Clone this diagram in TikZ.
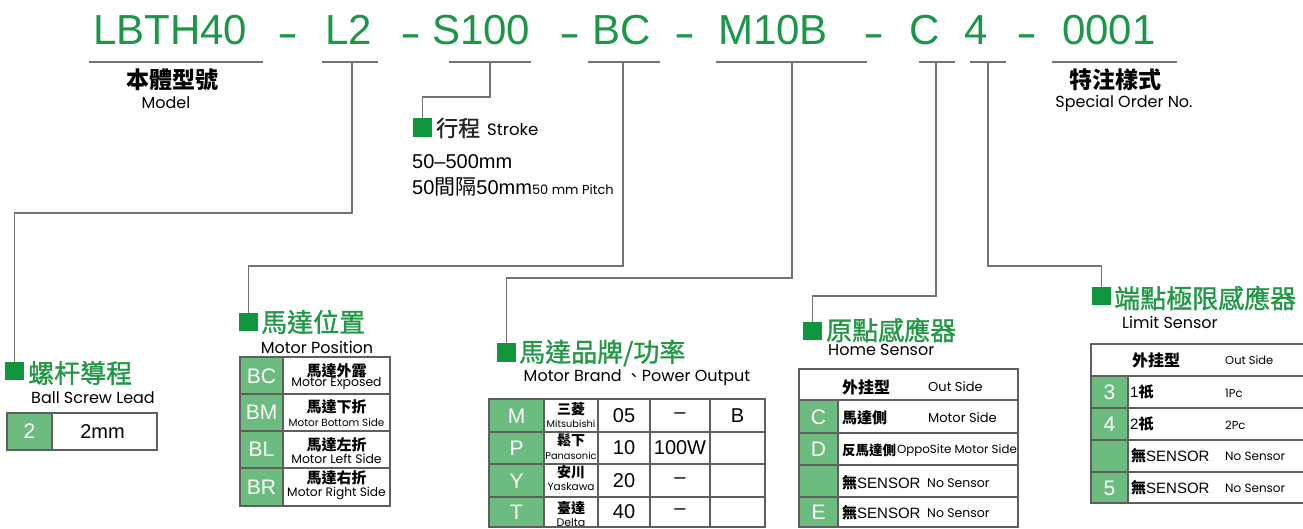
\documentclass[tikz,border=0pt]{standalone}
\usepackage{fontspec}
\setmainfont{Liberation Sans}
\newfontfamily\cjk{Noto Sans CJK TC}
\newfontfamily\cjkm[FakeBold=1.2]{Noto Sans CJK TC}
\newfontfamily\pop{Poppins}
\newcommand\setfs[1]{\fontsize{#1}{#1}\selectfont}
\newcommand\zh[1]{{\cjk #1}}
\newcommand\zhb[1]{{\cjk\bfseries #1}}
\definecolor{tg}{RGB}{28,150,72}
\definecolor{hg}{RGB}{34,152,70}
\definecolor{sqg}{RGB}{16,150,60}
\definecolor{cg}{RGB}{108,188,128}
\definecolor{ln}{RGB}{115,115,115}
\definecolor{tb}{RGB}{95,95,95}
\tikzset{
  ttl/.style={text=tg, font=\setfs{42}, inner sep=0, anchor=base west},
  hyph/.style={text=tg, font=\setfs{42}, inner sep=0, anchor=base},
  uline/.style={line width=2pt, draw=ln},
  conn/.style={line width=1.5pt, draw=ln},
  sqbox/.style={fill=sqg, minimum size=18.5pt, inner sep=0},
  head/.style={text=hg, font=\cjkm\setfs{26}, inner sep=0, anchor=west},
  subt/.style={font=\pop\setfs{16}, inner sep=0},
  tab/.style={draw=tb, line width=1.4pt},
  cellg/.style={fill=cg},
  wl/.style={text=white, font=\setfs{21}, inner sep=0},
  num/.style={font=\setfs{20}, inner sep=0},
  zhc/.style={font=\cjk\bfseries\setfs{15}, inner sep=0},
  enc/.style={font=\pop\setfs{12.4}, inner sep=0},
}
\begin{document}
\begin{tikzpicture}[x=1pt,y=-1pt]
\useasboundingbox (0,0) rectangle (1303,529);
% ---------- title ----------
\node[ttl] (tA) at (93,45) {LBTH40};
\node[hyph] (h1) at (288,48) {\scalebox{1.5}[1]{-}};
\node[ttl] (tB) at (325,45) {L2};
\node[hyph] (h2) at (411,48) {\scalebox{1.5}[1]{-}};
\node[ttl] (tC) at (432,45) {S100};
\node[hyph] (h3) at (570,48) {\scalebox{1.5}[1]{-}};
\node[ttl] (tD) at (592,45) {BC};
\node[hyph] (h4) at (685,48) {\scalebox{1.5}[1]{-}};
\node[ttl] (tE) at (718,45) {M10B};
\node[hyph] (h5) at (874,48) {\scalebox{1.5}[1]{-}};
\node[ttl] (tF) at (909,45) {C};
\node[ttl] (tG) at (964,45) {4};
\node[hyph] (h6) at (1027,48) {\scalebox{1.5}[1]{-}};
\node[ttl] (tH) at (1062,45) {0001};
% underlines
\draw[uline] (89,62) -- (263,62);
\draw[uline] (322,62) -- (378,62);
\draw[uline] (449,62) -- (531,62);
\draw[uline] (588,62) -- (660,62);
\draw[uline] (716,62) -- (867,62);
\draw[uline] (919,62) -- (955,62);
\draw[uline] (970,62) -- (1006,62);
\draw[uline] (1052,62) -- (1177,62);
\coordinate (cB) at (352,62);
\coordinate (cC) at (490,62);
\coordinate (cD) at (623,62);
\coordinate (cE) at (792,62);
\coordinate (cF) at (936,62);
\coordinate (cG) at (988,62);
% model & special
\node[font=\cjk\bfseries\setfs{23}, inner sep=0] (model) at (172,80) {本體型號};
\node[subt] (modelE) at (166,103) {Model};
\node[font=\cjk\bfseries\setfs{23}, inner sep=0] (spec) at (1115,80) {特注樣式};
\node[subt] (specE) at (1124,103) {Special Order No.};
% ---------- squares ----------
\node[sqbox] (sqS) at (422.5,127.5) {};
\node[sqbox] (sqL) at (14.5,371) {};
\node[sqbox] (sqP) at (248.5,322) {};
\node[sqbox] (sqM) at (506.5,352.5) {};
\node[sqbox] (sqH) at (812.5,331) {};
\node[sqbox] (sqT) at (1101.5,296) {};
% ---------- connectors ----------
\draw[conn] (cB) -- (352,213) -| (sqL.north);
\draw[conn] (cC) -- (490,97) -| (sqS.north);
\draw[conn] (cD) -- (623,266) -| (sqP.north);
\draw[conn] (cE) -- (792,278) -| (sqM.north);
\draw[conn] (cF) -- (936,296) -| (sqH.north);
\draw[conn] (cG) -- (988,266) -| (sqT.north);
% ---------- stroke ----------
\node[font=\cjkm\setfs{22}, text=black!85, inner sep=0, anchor=west] (strokeZ) at (436,128) {行程};
\node[font=\pop\setfs{16.5}, inner sep=0, anchor=west] (strokeE) at (487,129) {Stroke};
\node[font=\setfs{20}, inner sep=0, anchor=west] (range) at (412,162) {50–500mm};
\node[font=\setfs{20}, inner sep=0, anchor=west] (pitch) at (412,187) {50{\cjk\setfs{21}間隔}50mm{\pop\setfs{13}50 mm Pitch}};
% ---------- lead ----------
\node[head] (hL) at (28,373) {螺杆導程};
\node[subt] (sL) at (93,398) {Ball Screw Lead};
\fill[cellg] (7,413) rectangle (52,450);
\draw[tab] (7,413) rectangle (157,450);
\draw[tab] (52,413) -- (52,450);
\node[wl] (l2) at (29.5,431.5) {2};
\node[num] (l2mm) at (102.5,431.5) {2mm};
% ---------- motor position ----------
\node[head] (hP) at (261,322) {馬達位置};
\node[subt] (sP) at (317,347) {Motor Position};
\fill[cellg] (240,357) rectangle (283,506);
\draw[tab] (240,357) rectangle (390,506);
\draw[tab] (283,357) -- (283,506);
\draw[tab] (240,394) -- (390,394);
\draw[tab] (240,431) -- (390,431);
\draw[tab] (240,468) -- (390,468);
\node[wl] (pBC) at (261.5,376) {BC};
\node[wl] (pBM) at (261.5,412.5) {BM};
\node[wl] (pBL) at (261.5,449.5) {BL};
\node[wl] (pBR) at (261.5,487) {BR};
\node[zhc] (pz1) at (336.5,371) {馬達外露};
\node[enc] (pe1) at (336.5,384) {Motor Exposed};
\node[zhc] (pz2) at (336.5,407) {馬達下折};
\node[enc, font=\pop\setfs{10.4}] (pe2) at (336.5,423) {Motor Bottom Side};
\node[zhc] (pz3) at (336.5,445) {馬達左折};
\node[enc, font=\pop\setfs{12.4}] (pe3) at (336.5,459) {Motor Left Side};
\node[zhc] (pz4) at (336.5,478) {馬達右折};
\node[enc, font=\pop\setfs{12.2}] (pe4) at (336.5,494) {Motor Right Side};
% ---------- motor brand ----------
\node[head] (hM) at (519,353) {馬達品牌/功率};
\node[subt] (sM) at (637,378) {Motor Brand \zh{、}Power Output};
\fill[cellg] (489,399) rectangle (544,527);
\draw[tab] (489,399) rectangle (765,527);
\foreach \xx in {544,598,650,710} \draw[tab] (\xx,399) -- (\xx,527);
\foreach \yy in {432,464,497} \draw[tab] (489,\yy) -- (765,\yy);
\node[wl] (mM) at (516.5,416) {M};
\node[wl] (mP) at (516.5,448) {P};
\node[wl] (mY) at (516.5,481) {Y};
\node[wl] (mT) at (516.5,512) {T};
\node[zhc, font=\cjk\bfseries\setfs{14}] (mz1) at (571,409) {三菱};
\node[enc, font=\pop\setfs{9.8}] (me1) at (571,424) {Mitsubishi};
\node[zhc, font=\cjk\bfseries\setfs{14}] (mz2) at (571,440) {鬆下};
\node[enc, font=\pop\setfs{9.8}] (me2) at (571,456) {Panasonic};
\node[zhc, font=\cjk\bfseries\setfs{14}] (mz3) at (571,472) {安川};
\node[enc, font=\pop\setfs{10.5}] (me3) at (571,487) {Yaskawa};
\node[zhc, font=\cjk\bfseries\setfs{14}] (mz4) at (571,508) {臺達};
\node[enc, font=\pop\setfs{11}] (me4) at (571,522) {Delta};
\node[num] (n05) at (624,416) {05};
\node[num] (n10) at (624,448) {10};
\node[num] (n20) at (624,481) {20};
\node[num] (n40) at (624,512) {40};
\node[num] (w1) at (680,416) {–};
\node[num] (w2) at (680,448) {100W};
\node[num] (w3) at (680,481) {–};
\node[num] (w4) at (680,512) {–};
\node[num] (bB) at (737.5,416) {B};
% ---------- home sensor ----------
\node[head] (hH) at (826,330) {原點感應器};
\node[subt, anchor=west] (sH) at (828,350) {Home Sensor};
\fill[cellg] (799,400) rectangle (838,527);
\draw[tab] (799,369) rectangle (1018,527);
\draw[tab] (838,400) -- (838,527);
\foreach \yy in {400,433,465,497} \draw[tab] (799,\yy) -- (1018,\yy);
\node[wl] (hC) at (818.5,417) {C};
\node[wl] (hD) at (818.5,449) {D};
\node[wl] (hE) at (818.5,512) {E};
\node[zhc, anchor=west, font=\cjk\bfseries\setfs{16}] (hz1) at (842,387) {外挂型};
\node[enc, anchor=west, font=\pop\setfs{13}] (he1) at (928,387) {Out Side};
\node[zhc, anchor=west] (hz2) at (842,418) {馬達側};
\node[enc, anchor=west, font=\pop\setfs{13}] (he2) at (928,418) {Motor Side};
\node[zhc, anchor=west, font=\cjk\bfseries\setfs{13.5}] (hz3) at (842,450) {反馬達側};
\node[enc, anchor=west, font=\pop\setfs{11.8}] (he3) at (897,451) {OppoSite Motor Side};
\node[anchor=west, inner sep=0, font=\setfs{15}] (hz4) at (842,483) {\zhb{無}SENSOR};
\node[enc, anchor=west, font=\pop\setfs{12.5}] (he4) at (927,483) {No Sensor};
\node[anchor=west, inner sep=0, font=\setfs{15}] (hz5) at (842,513) {\zhb{無}SENSOR};
\node[enc, anchor=west, font=\pop\setfs{12.5}] (he5) at (927,513) {No Sensor};
% ---------- limit sensor ----------
\node[head] (hT) at (1114,298) {端點極限感應器};
\node[subt, anchor=west] (sT) at (1122,322) {Limit Sensor};
\fill[cellg] (1091,376) rectangle (1128,503);
\draw[tab] (1303,344) -- (1091,344) -- (1091,503) -- (1303,503);
\draw[tab] (1128,376) -- (1128,503);
\foreach \yy in {376,408,440,472} \draw[tab] (1091,\yy) -- (1303,\yy);
\node[wl] (t3) at (1109.5,392) {3};
\node[wl] (t4) at (1109.5,424) {4};
\node[wl] (t5) at (1109.5,488) {5};
\node[zhc, anchor=west, font=\cjk\bfseries\setfs{16}] (tz1) at (1132,360) {外挂型};
\node[enc, anchor=west, font=\pop\setfs{11.5}] (te1) at (1225,360) {Out Side};
\node[anchor=west, inner sep=0, font=\setfs{15}] (tz2) at (1130,392) {1\zhb{祇}};
\node[enc, anchor=west, font=\pop\setfs{11.5}] (te2) at (1225,393) {1Pc};
\node[anchor=west, inner sep=0, font=\setfs{15}] (tz3) at (1130,424) {2\zhb{祇}};
\node[enc, anchor=west, font=\pop\setfs{11.5}] (te3) at (1225,425) {2Pc};
\node[anchor=west, inner sep=0, font=\setfs{15}] (tz4) at (1131,456) {\zhb{無}SENSOR};
\node[enc, anchor=west, font=\pop\setfs{12}] (te4) at (1225,456) {No Sensor};
\node[anchor=west, inner sep=0, font=\setfs{15}] (tz5) at (1131,488) {\zhb{無}SENSOR};
\node[enc, anchor=west, font=\pop\setfs{12}] (te5) at (1225,488) {No Sensor};
\end{tikzpicture}
\end{document}
